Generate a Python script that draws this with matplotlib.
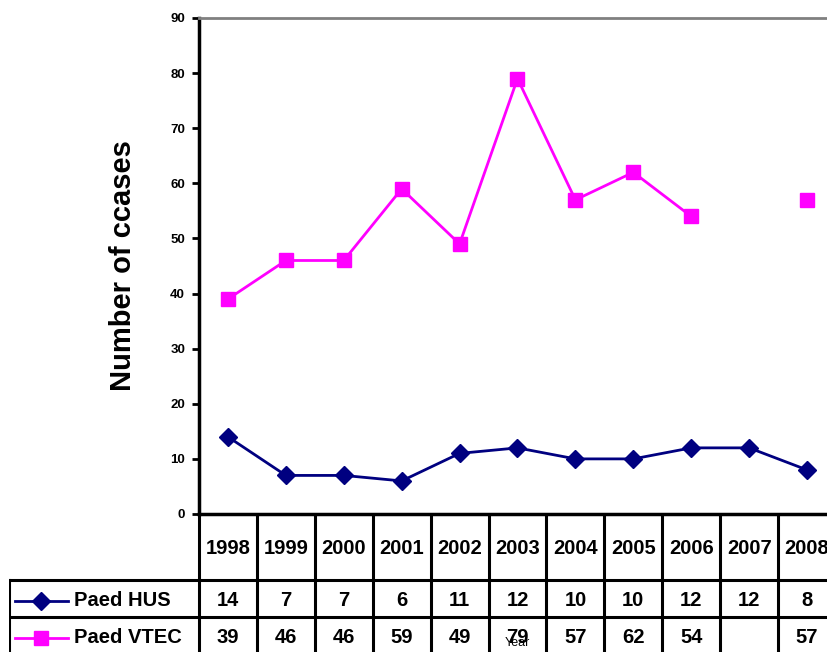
"""Paediatric HUS / VTEC cases by year, line chart with Excel-style data table."""
import matplotlib; matplotlib.use('Agg')
import matplotlib.pyplot as plt
import numpy as np

plt.rcParams.update({'font.family': ['Liberation Sans', 'DejaVu Sans'], 'font.weight': 'bold'})

years = ['1998', '1999', '2000', '2001', '2002', '2003', '2004', '2005', '2006', '2007', '2008']
hus = [14, 7, 7, 6, 11, 12, 10, 10, 12, 12, 8]
vtec = [39, 46, 46, 59, 49, 79, 57, 62, 54, np.nan, 57]
series = [('Paed HUS', hus, '#000080', 'D', 9.5), ('Paed VTEC', vtec, '#FF00FF', 's', 10)]

W, H = 828, 652
fig = plt.figure(figsize=(W / 100, H / 100), dpi=100)

# pixel layout
x0, x1 = 199, 836          # plot area left/right (right edge is cut off)
ytop, ybot = 18, 514        # plot area top/bottom
col = (x1 - x0) / len(years)
xleft = 9                   # table legend column left edge

def fx(px): return px / W
def fy(py): return 1 - py / H

ax = fig.add_axes([fx(x0), fy(ybot), fx(x1) - fx(x0), fy(ytop) - fy(ybot)])
x = np.arange(len(years))
for name, vals, c, m, ms in series:
    ax.plot(x, vals, color=c, lw=2, marker=m, ms=ms, mec=c, mfc=c, clip_on=False, zorder=3)
ax.set_xlim(-0.5, len(years) - 0.5)
ax.set_ylim(0, 90)
ax.set_yticks(range(0, 91, 10))
ax.set_xticks([])
ax.tick_params(axis='y', direction='out', length=5, width=2, labelsize=9.5, pad=5)
for lab in ax.get_yticklabels():
    lab.set_fontweight('bold')
ax.spines['left'].set_linewidth(2.5)
ax.spines['bottom'].set_linewidth(2.5)
ax.spines['top'].set_color('#808080')
ax.spines['top'].set_linewidth(2)
ax.spines['right'].set_visible(False)
ax.set_ylabel('Number of ccases', fontsize=21, fontweight='bold', labelpad=24)

# data table below the plot, drawn in an axes whose x matches the plot
ext = (x0 - xleft) / col
tab = fig.add_axes([fx(xleft), fy(H + 40), fx(x1) - fx(xleft), fy(ybot) - fy(H + 40)])
tab.set_xlim(-0.5 - ext, len(years) - 0.5)
tab.set_ylim(H + 40, ybot)
tab.axis('off')
r1, r2 = 580, 617
lw = 2.2
for k in range(len(years) + 1):
    tab.plot([k - 0.5, k - 0.5], [ybot, H + 40], color='black', lw=lw)
tab.plot([-0.5 - ext, -0.5 - ext], [r1, H + 40], color='black', lw=lw)
for ry in (r1, r2):
    tab.plot([-0.5 - ext, len(years) - 0.5], [ry, ry], color='black', lw=lw)

for i, yr in enumerate(years):
    tab.text(i, 549, yr, ha='center', va='center', fontsize=14.5, fontweight='bold')
for (name, vals, c, m, ms), ty in zip(series, (601, 638)):
    lx0 = -0.5 - ext + 6 / col
    lx1 = -0.5 - ext + 59 / col
    tab.plot([lx0, lx1], [ty, ty], color=c, lw=2)
    tab.plot([(lx0 + lx1) / 2], [ty], marker=m, color=c, ms=ms)
    tab.text(-0.5 - ext + 65 / col, ty, name, ha='left', va='center', fontsize=14.5, fontweight='bold')
    for i, v in enumerate(vals):
        if not np.isnan(v):
            tab.text(i, ty, f'{int(v)}', ha='center', va='center', fontsize=14.5, fontweight='bold')

fig.text(fx(517), fy(643), 'Year', ha='center', va='center', fontsize=9, fontweight='normal')

fig.savefig('out.png', dpi=100)
plt.close(fig)
